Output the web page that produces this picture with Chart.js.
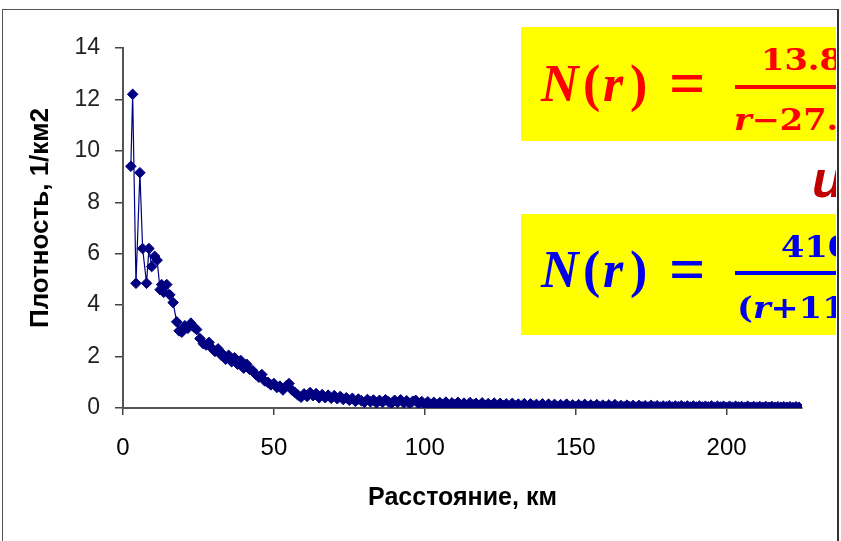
<!DOCTYPE html>
<html>
<head>
<meta charset="utf-8">
<script src="https://cdn.jsdelivr.net/npm/chart.js@4/dist/chart.umd.min.js"></script>
<style>
    body { margin: 0; background: #fff; }
    #wrap { position: relative; width: 841px; height: 541px; overflow: hidden; }
    #chart { position: absolute; left: 0; top: 0; }
    .frame { position: absolute; left: 2px; top: 9px; width: 834px; height: 540px;
             border-left: 1px solid #555; border-top: 1px solid #555; border-right: 2px solid #333; }
    .clip { position: absolute; left: 0; top: 0; width: 836px; height: 541px; overflow: hidden; }
    .box { position: absolute; left: 521px; width: 400px; background: #ffff00; }
    .g { position: absolute; white-space: nowrap; line-height: 1; font-family: "Liberation Serif", serif; font-weight: bold; }
    .it { font-style: italic; }
    .big { font-size: 52px; }
    .eq { font-size: 64px; }
    .fr { font-family: "DejaVu Serif", serif; font-size: 30px; transform: scaleX(1.12); transform-origin: left top; }
    .bar { position: absolute; left: 214px; width: 200px; height: 4px; }
    .red { color: #ff0000; }
    .blue { color: #0000ee; }
</style>
</head>
<body>
<div id="wrap">
    <canvas id="chart" width="841" height="541"></canvas>
    <div class="clip">
        <div class="box red" style="top:27px;height:114px">
            <span class="g big it" style="left:20px;top:31px">N</span>
            <span class="g big" style="left:62px;top:31px">(</span>
            <span class="g big it" style="left:82px;top:31px">r</span>
            <span class="g big" style="left:109px;top:31px">)</span>
            <span class="g eq" style="left:148px;top:25px">=</span>
            <span class="g fr" style="left:240px;top:18px">13.8</span>
            <div class="bar" style="top:58px;background:#ff0000"></div>
            <span class="g fr" style="left:213px;top:78px"><i>r</i>−27.</span>
        </div>
        <div class="g" style="left:812px;top:153px;font-family:'Liberation Sans',sans-serif;font-size:52px;color:#c00000;font-style:italic">и</div>
        <div class="box blue" style="top:214px;height:121px">
            <span class="g big it" style="left:20px;top:30px">N</span>
            <span class="g big" style="left:62px;top:30px">(</span>
            <span class="g big it" style="left:82px;top:30px">r</span>
            <span class="g big" style="left:109px;top:30px">)</span>
            <span class="g eq" style="left:148px;top:24px">=</span>
            <span class="g fr" style="left:260px;top:18px">410</span>
            <div class="bar" style="top:57px;background:#0000ee"></div>
            <span class="g fr" style="left:216px;top:79px">(<i>r</i>+11</span>
        </div>
    </div>
    <div class="frame"></div>
</div>
<script>
// distance (km) and density (1/km2)
const distNear = [2.6, 3.2, 4.3, 5.6, 6.5, 7.8, 8.6, 9.5, 10.5, 11.3, 12.3, 12.8, 13.5, 14.5, 15.5, 16.6,
    17.8, 18.6, 19.5, 20.5, 21.5, 22.5, 23.5, 24.4, 25.5, 26.6, 27.5, 28.5, 29.4, 30.5, 31.5, 32.5];
const densNear = [9.4, 12.2, 4.85, 9.15, 6.2, 4.85, 6.2, 5.5, 5.9, 5.75, 4.6, 4.8, 4.5, 4.8, 4.4, 4.1,
    3.35, 3.0, 2.95, 3.2, 3.1, 3.3, 3.15, 3.05, 2.7, 2.5, 2.45, 2.55, 2.33, 2.2, 2.3, 2.06];

const distFar = [33, 34, 35, 36, 37, 38, 39, 40, 41, 42, 43, 44, 45, 46, 47, 48, 49, 50,
    51, 52, 53, 54, 55, 56, 57, 58, 59, 60, 61, 62, 63, 64, 65, 66, 67, 68, 69, 70,
    71, 72, 73, 74, 75, 76, 77, 78, 79, 80, 81, 82, 83, 84, 85, 86, 87, 88, 89, 90,
    91, 92, 93, 94, 95, 96, 97, 98, 99, 100, 101, 102, 103, 104, 105, 106, 107, 108, 109, 110,
    111, 112, 113, 114, 115, 116, 117, 118, 119, 120, 121, 122, 123, 124, 125, 126, 127, 128, 129, 130,
    131, 132, 133, 134, 135, 136, 137, 138, 139, 140, 141, 142, 143, 144, 145, 146, 147, 148, 149, 150,
    151, 152, 153, 154, 155, 156, 157, 158, 159, 160, 161, 162, 163, 164, 165, 166, 167, 168, 169, 170,
    171, 172, 173, 174, 175, 176, 177, 178, 179, 180, 181, 182, 183, 184, 185, 186, 187, 188, 189, 190,
    191, 192, 193, 194, 195, 196, 197, 198, 199, 200, 201, 202, 203, 204, 205, 206, 207, 208, 209, 210,
    211, 212, 213, 214, 215, 216, 217, 218, 219, 220, 221, 222, 223, 224];
const densFar = [2.1, 1.9, 2.05, 1.8, 1.95, 1.7, 1.85, 1.55, 1.7, 1.5, 1.45, 1.3, 1.2, 1.3, 1.05, 1.0, 0.9, 0.95,
    0.8, 0.85, 0.7, 0.85, 0.95, 0.7, 0.6, 0.5, 0.42, 0.55, 0.45, 0.6, 0.48, 0.56, 0.4, 0.52, 0.4, 0.5, 0.38, 0.48,
    0.36, 0.45, 0.33, 0.4, 0.3, 0.38, 0.26, 0.35, 0.28, 0.22, 0.33, 0.24, 0.31, 0.2, 0.3, 0.22, 0.32, 0.24, 0.19, 0.3,
    0.22, 0.32, 0.2, 0.28, 0.17, 0.26, 0.3, 0.16, 0.25, 0.14, 0.24, 0.13, 0.22, 0.11, 0.21, 0.14, 0.23, 0.1, 0.2, 0.13,
    0.22, 0.1, 0.19, 0.09, 0.21, 0.12, 0.18, 0.08, 0.2, 0.1, 0.17, 0.08, 0.19, 0.07, 0.18, 0.1, 0.16, 0.07, 0.18, 0.08,
    0.15, 0.07, 0.17, 0.06, 0.16, 0.08, 0.14, 0.06, 0.16, 0.05, 0.15, 0.07, 0.14, 0.05, 0.13, 0.06, 0.15, 0.05, 0.12, 0.05,
    0.13, 0.06, 0.14, 0.05, 0.12, 0.06, 0.13, 0.05, 0.11, 0.05, 0.12, 0.05, 0.13, 0.05, 0.1, 0.05, 0.11, 0.05, 0.1, 0.04,
    0.1, 0.05, 0.09, 0.04, 0.1, 0.05, 0.09, 0.04, 0.08, 0.05, 0.09, 0.04, 0.08, 0.05, 0.09, 0.04, 0.08, 0.04, 0.08, 0.04,
    0.08, 0.04, 0.07, 0.04, 0.08, 0.03, 0.07, 0.04, 0.07, 0.03, 0.07, 0.03, 0.07, 0.04, 0.06, 0.03, 0.07, 0.03, 0.06, 0.03,
    0.06, 0.03, 0.06, 0.03, 0.06, 0.03, 0.05, 0.03, 0.05, 0.03, 0.05, 0.02, 0.05, 0.03];

const xTicks = [0, 50, 100, 150, 200];
const yTicks = [0, 2, 4, 6, 8, 10, 12, 14];
const xTitle = 'Расстояние, км';
const yTitle = 'Плотность, 1/км2';

const dist = distNear.concat(distFar);
const dens = densNear.concat(densFar);
const points = dist.map((d, i) => ({ x: d, y: dens[i] }));

const navy = '#000080';
const axisFont = { family: '"Liberation Sans", Arial, sans-serif', size: 23 };

const yTitlePlugin = {
    id: 'yTitle',
    afterDraw(chart) {
        const ctx = chart.ctx;
        ctx.save();
        ctx.translate(41, 218);
        ctx.rotate(-Math.PI / 2);
        ctx.font = 'bold 26px "Liberation Sans", Arial, sans-serif';
        ctx.fillStyle = '#000';
        ctx.textAlign = 'center';
        ctx.textBaseline = 'middle';
        ctx.fillText(yTitle, 0, 0);
        ctx.restore();
    }
};

new Chart(document.getElementById('chart'), {
    type: 'line',
    data: {
        datasets: [{
            data: points,
            borderColor: navy,
            borderWidth: 1.2,
            pointStyle: 'rectRot',
            pointRadius: 5.3,
            pointBackgroundColor: navy,
            pointBorderColor: navy,
            pointBorderWidth: 1,
            tension: 0,
        }]
    },
    options: {
        responsive: false,
        animation: false,
        devicePixelRatio: 1,
        layout: { padding: { left: 0, top: 48, right: 39, bottom: 0 } },
        plugins: { legend: { display: false }, tooltip: { enabled: false } },
        scales: {
            x: {
                type: 'linear',
                min: 0,
                max: 225,
                afterBuildTicks: scale => { scale.ticks = xTicks.map(v => ({ value: v })); },
                afterFit: scale => { scale.height = 133; },
                grid: { drawOnChartArea: false, tickLength: 7, color: '#444', lineWidth: 1.5 },
                border: { color: '#555', width: 2 },
                ticks: { font: { ...axisFont, size: 24 }, color: '#000', padding: 19, maxRotation: 0, autoSkip: false },
                title: {
                    display: true,
                    text: xTitle,
                    color: '#000',
                    font: { ...axisFont, size: 25, weight: 'bold' },
                    padding: { top: 0, bottom: 28 }
                }
            },
            y: {
                min: 0,
                max: 14,
                afterBuildTicks: scale => { scale.ticks = yTicks.map(v => ({ value: v })); },
                afterFit: scale => { scale.width = 123; },
                grid: { drawOnChartArea: false, tickLength: 8, color: '#444', lineWidth: 1.5 },
                border: { color: '#555', width: 2 },
                ticks: { font: axisFont, color: '#222', padding: 15 }
            }
        }
    },
    plugins: [yTitlePlugin]
});
</script>
</body>
</html>
